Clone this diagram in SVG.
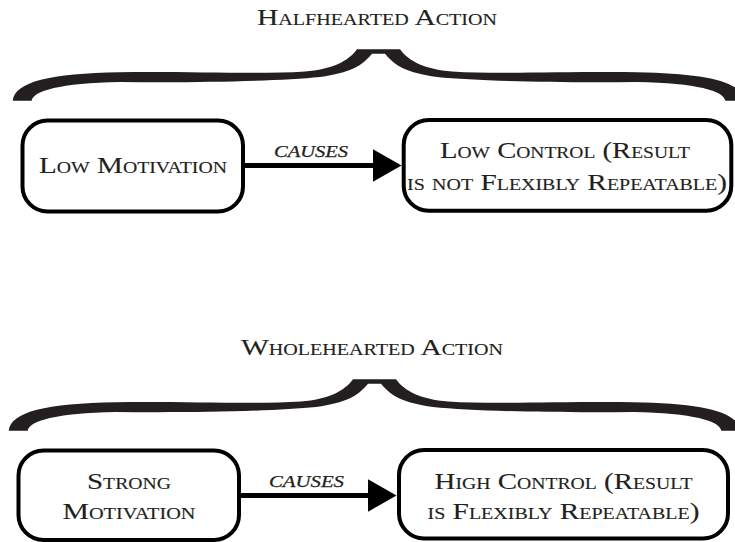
<svg xmlns="http://www.w3.org/2000/svg" width="735" height="542" viewBox="0 0 735 542">
  <style>
    .t { font-family: "Liberation Serif", "Times New Roman", serif; font-size: 23.5px; font-variant: small-caps; fill: #231f20; stroke: #231f20; stroke-width: 0.12; text-anchor: middle; }
    .lab { font-family: "Liberation Serif", "Times New Roman", serif; font-size: 23.5px; font-style: italic; font-variant: small-caps; fill: #231f20; stroke: #231f20; stroke-width: 0.25; text-anchor: middle; }
    .box { fill: #ffffff; stroke: #000000; stroke-width: 4; }
    .brace { fill: #231f20; }
    .conn { stroke: #000000; stroke-width: 5; fill: none; }
  </style>
  <defs>
    <path id="brace" d="M12.7,100.7 C15,81.5 50,73.5 120,72.2 C200,71.5 260,74.5 305,71.5 C332,69.5 348,61.5 357,49.3 L400,49.3 C409,61.5 425,69.5 452,71.5 C497,74.5 557,71.5 637,72.2 C707,73.5 742,81.5 744.3,100.7 L725.3,100.7 C724,91 697,83 637,82 C557,83 477,81 437,77 C407,73 395,66 385,53.8 L372,53.8 C362,66 350,73 320,77 C280,81 200,83 120,82 C60,83 33,91 31.7,100.7 Z"/>
    <marker id="head" viewBox="0 0 29 33" refX="7.5" refY="16.5" markerWidth="29" markerHeight="33" markerUnits="userSpaceOnUse" orient="auto">
      <path d="M0,0 L29,16.5 L0,33 Z" fill="#000000"/>
    </marker>
  </defs>

  <g id="halfhearted">
    <text class="t" x="377" y="25" textLength="240" lengthAdjust="spacingAndGlyphs">Halfhearted Action</text>
    <use href="#brace" class="brace"/>
  </g>
  <g id="low-motivation">
    <rect class="box" x="22.5" y="120.5" width="220.5" height="91" rx="25"/>
    <text class="t" x="133" y="173" textLength="188" lengthAdjust="spacingAndGlyphs">Low Motivation</text>
  </g>
  <g id="low-control">
    <rect class="box" x="403.7" y="120" width="327.6" height="90.7" rx="25"/>
    <text class="t" x="565" y="158" textLength="250" lengthAdjust="spacingAndGlyphs">Low Control (Result</text>
    <text class="t" x="567" y="190" textLength="320" lengthAdjust="spacingAndGlyphs">is not Flexibly Repeatable)</text>
  </g>

  <g id="wholehearted">
    <text class="t" x="372" y="355" textLength="262" lengthAdjust="spacingAndGlyphs">Wholehearted Action</text>
    <use href="#brace" class="brace" transform="translate(-4,330)"/>
  </g>
  <g id="strong-motivation">
    <rect class="box" x="18.5" y="450.5" width="220.5" height="89.5" rx="25"/>
    <text class="t" x="129" y="489" textLength="84" lengthAdjust="spacingAndGlyphs">Strong</text>
    <text class="t" x="129" y="519" textLength="133" lengthAdjust="spacingAndGlyphs">Motivation</text>
  </g>
  <g id="high-control">
    <rect class="box" x="399" y="450" width="329" height="88.5" rx="25"/>
    <text class="t" x="563.5" y="489" textLength="258" lengthAdjust="spacingAndGlyphs">High Control (Result</text>
    <text class="t" x="563.5" y="519" textLength="272" lengthAdjust="spacingAndGlyphs">is Flexibly Repeatable)</text>
  </g>

  <g id="connectors">
    <line class="conn" x1="245" y1="165.5" x2="380" y2="165.5" marker-end="url(#head)"/>
    <text class="lab" x="311" y="157" textLength="74" lengthAdjust="spacingAndGlyphs">causes</text>
    <line class="conn" x1="241" y1="495.5" x2="375" y2="495.5" marker-end="url(#head)"/>
    <text class="lab" x="306.5" y="487" textLength="75" lengthAdjust="spacingAndGlyphs">causes</text>
  </g>
</svg>
